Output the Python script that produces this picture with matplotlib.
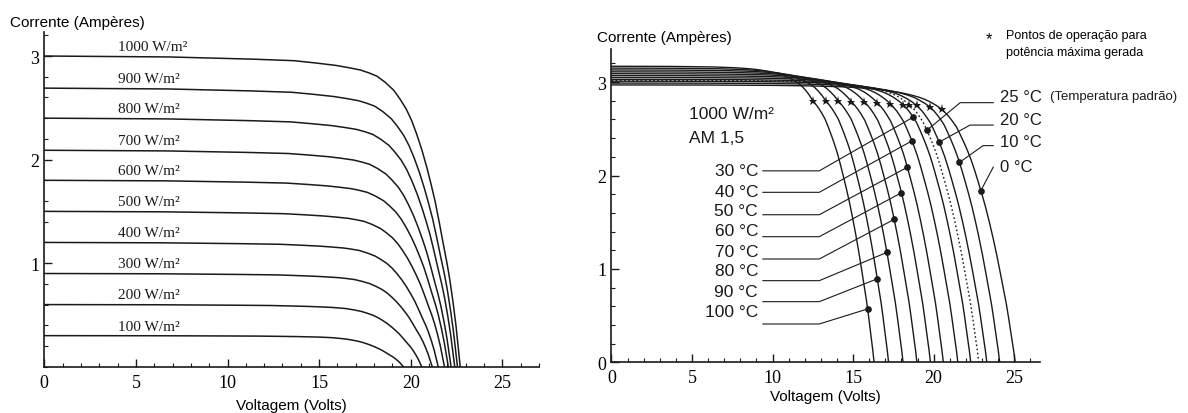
import numpy as np
import matplotlib
matplotlib.use("Agg")
import matplotlib.pyplot as plt
from matplotlib.ticker import MultipleLocator

# ---- left panel: curves for different irradiance ----
irradiance = [1000, 900, 800, 700, 600, 500, 400, 300, 200, 100]
isc_irr = [3.00, 2.69, 2.40, 2.09, 1.80, 1.50, 1.20, 0.90, 0.60, 0.30]
voc_irr = [22.7, 22.55, 22.4, 22.2, 22.05, 21.84, 21.5, 21.17, 20.6, 19.6]

shape_v = [0, 0.3, 0.5, 0.6, 0.65, 0.7, 0.73, 0.76, 0.78, 0.8, 0.82, 0.84,
           0.855, 0.87, 0.883, 0.895, 0.908, 0.92, 0.93, 0.94, 0.95, 0.96,
           0.968, 0.975, 0.983, 0.99, 1.0]
shape_i = [1, 0.997, 0.99, 0.985, 0.978, 0.97, 0.963, 0.955, 0.946, 0.935,
           0.915, 0.89, 0.862, 0.83, 0.793, 0.75, 0.697, 0.64, 0.587, 0.53,
           0.462, 0.39, 0.335, 0.28, 0.205, 0.13, 0]

# ---- right panel: curves for different temperature ----
temps = [0, 10, 20, 25, 30, 40, 50, 60, 70, 80, 90, 100]
isc_t = [2.97, 2.99, 3.01, 3.02, 3.03, 3.05, 3.07, 3.09, 3.11, 3.13, 3.15, 3.17]
vmp_t = [20.5, 19.8, 18.95, 18.5, 18.1, 17.3, 16.5, 15.7, 14.9, 14.07, 13.3, 12.5]
imp_t = [2.71, 2.73, 2.75, 2.76, 2.76, 2.77, 2.78, 2.79, 2.79, 2.80, 2.80, 2.80]
voc_t = [25.06, 24.1, 23.3, 22.8, 22.3, 21.5, 20.6, 19.8, 18.96, 18.1, 17.2, 16.3]
dot_v = [22.93, 21.6, 20.34, 19.58, 18.73, 18.65, 18.37, 18.0, 17.55, 17.1, 16.5, 15.9]

# knee before the max power point (V/Vmp, fraction of Isc-Imp)
knee_s = [0, 0.3, 0.5, 0.6, 0.65, 0.7, 0.74, 0.78, 0.81, 0.84, 0.865,
          0.89, 0.91, 0.93, 0.948, 0.965, 0.983, 1.0]
knee_f = [1, 0.995, 0.98, 0.96, 0.943, 0.92, 0.89, 0.85, 0.81, 0.76, 0.705,
          0.64, 0.575, 0.5, 0.41, 0.3, 0.16, 0]
# drop after the max power point ((V-Vmp)/(Voc-Vmp), I/Imp)
drop_u = [0, 0.05, 0.1, 0.15, 0.2, 0.25, 0.3, 0.35, 0.4, 0.45, 0.5, 0.55,
          0.6, 0.65, 0.7, 0.75, 0.8, 0.84, 0.88, 0.91, 0.94, 0.96, 0.98, 1.0]
drop_w = [1, 0.986, 0.97, 0.951, 0.93, 0.901, 0.87, 0.837, 0.80, 0.757,
          0.71, 0.662, 0.61, 0.552, 0.49, 0.423, 0.35, 0.29, 0.23, 0.177,
          0.12, 0.082, 0.045, 0]

serif = "Liberation Serif"
sans = "Liberation Sans"
ink = "#1a1a1a"

fig = plt.figure(figsize=(11.88, 4.14), dpi=100)
ax1 = fig.add_axes([0.0373, 0.1118, 0.4164, 0.808])
ax2 = fig.add_axes([0.5147, 0.1225, 0.3607, 0.7568])


def style_axes(ax, xmax, ymax):
    ax.set_xlim(0, xmax)
    ax.set_ylim(0, ymax)
    ax.spines["top"].set_visible(False)
    ax.spines["right"].set_visible(False)
    for s in ("left", "bottom"):
        ax.spines[s].set_linewidth(1.2)
        ax.spines[s].set_color(ink)
    ax.xaxis.set_major_locator(MultipleLocator(5))
    ax.xaxis.set_minor_locator(MultipleLocator(1))
    ax.yaxis.set_major_locator(MultipleLocator(1))
    ax.yaxis.set_minor_locator(MultipleLocator(0.2))
    ax.tick_params(which="both", direction="in", color=ink)
    ax.tick_params(which="major", length=6, width=1)
    ax.tick_params(which="minor", length=3, width=0.8)
    ax.tick_params(axis="x", pad=5)


# left panel
for g, isc, voc in zip(irradiance, isc_irr, voc_irr):
    v = voc * np.array(shape_v)
    i = isc * np.array(shape_i)
    ax1.plot(v, i, color=ink, lw=1.1)
    ax1.text(4.0, isc + 0.03, f"{g} W/m²", family=serif, fontsize=11,
             ha="left", va="bottom", color=ink)

style_axes(ax1, 27, 3.23)
ax1.set_yticks([1, 2, 3])
ax1.set_yticklabels(["1", "2", "3"], family=serif, fontsize=13)
ax1.set_xticks([0, 5, 10, 15, 20, 25])
ax1.set_xticklabels(["0", "5", "10", "15", "20", "25"], family=serif, fontsize=13)
ax1.set_xlabel("Voltagem (Volts)", family=sans, fontsize=11, labelpad=5)
fig.text(0.008, 0.945, "Corrente (Ampères)", family=sans, fontsize=11,
         ha="left", va="center")

# right panel
curves = {}
for k, t in enumerate(temps):
    v_left = vmp_t[k] * np.array(knee_s)
    i_left = imp_t[k] + (isc_t[k] - imp_t[k]) * np.array(knee_f)
    v_right = vmp_t[k] + (voc_t[k] - vmp_t[k]) * np.array(drop_u)
    i_right = imp_t[k] * np.array(drop_w)
    v = np.concatenate([v_left, v_right[1:]])
    i = np.concatenate([i_left, i_right[1:]])
    curves[t] = (v, i)
    ls = (0, (1.2, 1.8)) if t == 25 else "-"
    ax2.plot(v, i, color=ink, lw=1.0, ls=ls)

ax2.plot(vmp_t, imp_t, "*", color=ink, ms=6.5, mew=0, zorder=5)
dot_i = [np.interp(dv, curves[t][0], curves[t][1]) for t, dv in zip(temps, dot_v)]
ax2.plot(dot_v, dot_i, "o", color=ink, ms=3.8, zorder=5)

# leader lines, left side labels
left_labels = [30, 40, 50, 60, 70, 80, 90, 100]
label_y = [2.05, 1.83, 1.62, 1.41, 1.19, 0.98, 0.76, 0.54]
line_y = [2.05, 1.82, 1.58, 1.345, 1.106, 0.874, 0.649, 0.41]
for t, ty, ly in zip(left_labels, label_y, line_y):
    k = temps.index(t)
    ax2.text(9.1, ty, f"{t} °C", family=sans, fontsize=12.5, ha="right",
             va="center", color=ink)
    ax2.plot([9.4, 12.9, dot_v[k]], [ly, ly, dot_i[k]], color=ink, lw=0.8)

# leader lines, right side labels
right_labels = [25, 20, 10, 0]
rlabel_y = [2.85, 2.60, 2.36, 2.10]
rline_y = [2.78, 2.54, 2.32, 2.09]
rbend_v = [21.65, 22.26, 23.07, 23.7]
for t, ty, ly, bv in zip(right_labels, rlabel_y, rline_y, rbend_v):
    k = temps.index(t)
    ax2.text(24.1, ty, f"{t} °C", family=sans, fontsize=12, ha="left",
             va="center", color=ink, clip_on=False)
    ax2.plot([23.7, bv, dot_v[k]], [ly, ly, dot_i[k]], color=ink, lw=0.8,
             clip_on=False)
ax2.text(27.2, 2.85, "(Temperatura padrão)", family=sans, fontsize=9.5,
         ha="left", va="center", color=ink, clip_on=False)

ax2.text(4.8, 2.66, "1000 W/m²", family=sans, fontsize=12.5, ha="left",
         va="center", color=ink)
ax2.text(4.8, 2.41, "AM 1,5", family=sans, fontsize=12.5, ha="left",
         va="center", color=ink)

style_axes(ax2, 26.6, 3.355)
ax2.set_yticks([0, 1, 2, 3])
ax2.set_yticklabels(["0", "1", "2", "3"], family=serif, fontsize=13)
ax2.set_xticks([0, 5, 10, 15, 20, 25])
ax2.set_xticklabels(["0", "5", "10", "15", "20", "25"], family=serif, fontsize=13)
ax2.set_xlabel("Voltagem (Volts)", family=sans, fontsize=11, labelpad=2)
fig.text(0.5025, 0.908, "Corrente (Ampères)", family=sans, fontsize=11,
         ha="left", va="center")

# legend for the max power points
fig.text(0.8325, 0.905, "*", family=sans, fontsize=12, ha="center", va="center")
fig.text(0.847, 0.913, "Pontos de operação para", family=sans, fontsize=9,
         ha="left", va="center")
fig.text(0.847, 0.872, "potência máxima gerada", family=sans, fontsize=9,
         ha="left", va="center")

fig.savefig("out.png", dpi=100)
